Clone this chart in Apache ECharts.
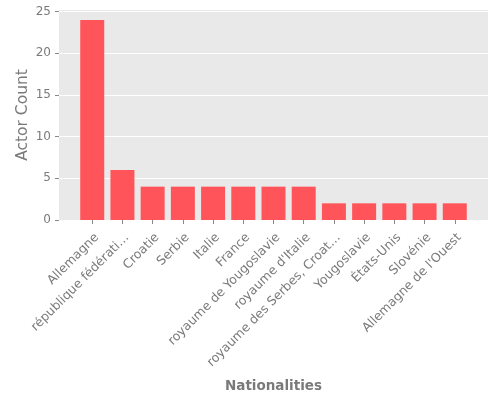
<!DOCTYPE html>
<html>
<head>
<meta charset="utf-8">
<script src="https://cdn.jsdelivr.net/npm/echarts@6/dist/echarts.min.js"></script>
<style>
  html, body { margin: 0; padding: 0; background: #fff; }
  #chart { width: 500px; height: 400px; }
</style>
</head>
<body>
<div id="chart"></div>
<script>
var nationalities = [
  'Allemagne',
  'république fédérati…',
  'Croatie',
  'Serbie',
  'Italie',
  'France',
  'royaume de Yougoslavie',
  "royaume d'Italie",
  'royaume des Serbes, Croat…',
  'Yougoslavie',
  'États-Unis',
  'Slovénie',
  "Allemagne de l'Ouest"
];
var actorCounts = [24, 6, 4, 4, 4, 4, 4, 4, 2, 2, 2, 2, 2];
var yTicks = [0, 5, 10, 15, 20, 25];

var positions = nationalities.map(function (n, i) { return i; });
var gray = '#7a7a7a';
var font = 'DejaVu Sans';

var chart = echarts.init(document.getElementById('chart'));
chart.setOption({
  animation: false,
  grid: {
    left: 59, right: 12, top: 10, bottom: 180,
    show: true, backgroundColor: '#e9e9e9', borderWidth: 0
  },
  xAxis: {
    type: 'value',
    min: -1.1,
    max: 13.1,
    name: 'Nationalities',
    nameLocation: 'middle',
    nameGap: 159,
    nameMoveOverlap: false,
    nameTextStyle: { color: gray, fontFamily: font, fontSize: 13.5, fontWeight: 'bold' },
    axisLine: { show: false, onZero: false },
    splitLine: { show: false },
    axisTick: { show: true, customValues: positions, length: 4, lineStyle: { color: '#888' } },
    axisLabel: {
      customValues: positions,
      rotate: 45,
      align: 'right',
      verticalAlign: 'top',
      color: gray,
      fontFamily: font,
      fontSize: 12.5,
      margin: 11,
      formatter: function (v) { return nationalities[v]; }
    }
  },
  yAxis: {
    type: 'value',
    min: 0,
    max: 25.2,
    name: 'Actor Count',
    nameLocation: 'middle',
    nameGap: 28,
    nameMoveOverlap: false,
    nameTextStyle: { color: gray, fontFamily: font, fontSize: 15.5 },
    axisLine: { show: false, onZero: false },
    axisTick: { show: true, customValues: yTicks, length: 4, lineStyle: { color: '#888' } },
    axisLabel: {
      color: gray, fontFamily: font, fontSize: 12, margin: 8,
      customValues: yTicks
    },
    splitLine: { show: true, lineStyle: { color: '#ffffff', width: 1 } }
  },
  series: [{
    type: 'bar',
    barWidth: 24,
    data: actorCounts.map(function (v, i) { return [positions[i], v]; }),
    itemStyle: { color: '#ff5459' }
  }]
});
</script>
</body>
</html>
